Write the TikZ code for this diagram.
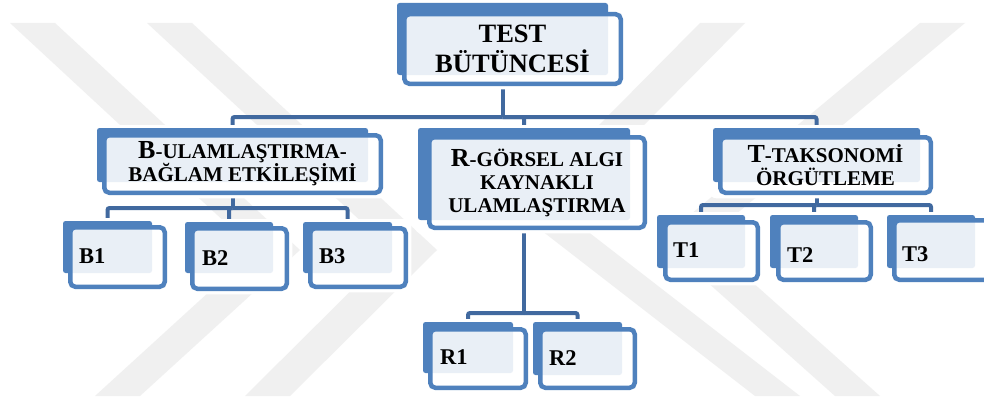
\documentclass[tikz,border=0pt]{standalone}
\usepackage{fontspec}
\setmainfont{Liberation Serif}
\usetikzlibrary{calc}
\pgfdeclarelayer{wm}
\pgfdeclarelayer{conn}
\pgfdeclarelayer{halo}
\pgfsetlayers{wm,conn,halo,main}
\definecolor{accblue}{HTML}{4F81BD}
\definecolor{connblue}{HTML}{41699F}
\definecolor{wmgray}{HTML}{F0F0F0}
\tikzset{
  backbox/.style={fill=accblue, draw=none, rounded corners=2.5pt, inner sep=0pt, outer sep=0pt, anchor=north west},
  frontbox/.style={fill=white, fill opacity=0.88, text opacity=1, draw=accblue, line width=4.5pt, rounded corners=5pt, inner sep=0pt, outer sep=0pt, anchor=north west, align=center, font=\bfseries\fontsize{21}{23}\selectfont},
  bigtext/.style={font=\bfseries\fontsize{26.5}{30}\selectfont},
  leaftext/.style={anchor=base west, inner sep=0pt, font=\bfseries\fontsize{22.5}{24}\selectfont},
  conn/.style={draw=connblue, line width=4pt, rounded corners=2pt},
  halo/.style={fill=white, rounded corners=6pt},
  wmband/.style={fill=wmgray, draw=none}
}
\newcommand\backat[5]{\node[backbox, minimum width=#4-#2, minimum height=#5-#3] (#1) at (#2,#3) {};}
\newcommand\frontat[7][]{\node[frontbox, #1, minimum width=#5-#3-4.5, minimum height=#6-#4-4.5] (#2) at (#3+2.25,#4+2.25) {#7};}
\newcommand\haloof[2]{\begin{pgfonlayer}{halo}\fill[halo] ($(#1.north west)+(-3,-3)$) rectangle ($(#2.south east)+(5.5,5.5)$);\end{pgfonlayer}}
\begin{document}
\begin{tikzpicture}[x=1pt,y=-1pt]
\useasboundingbox (0,0) rectangle (984,396);
% watermark
\begin{pgfonlayer}{wm}
\fill[white] (0,0) rectangle (984,396);
\fill[wmband] (10,23) -- (55,23) -- (300,250) -- (140,396) -- (95,396) -- (255,250) -- cycle;
\fill[wmband] (147,23) -- (192,23) -- (437,250) -- (290,396) -- (245,396) -- (392,250) -- cycle;
\fill[wmband] (700,23) -- (745,23) -- (560,210) -- (800,396) -- (755,396) -- (515,210) -- cycle;
\fill[wmband] (920,23) -- (965,23) -- (705,240) -- (880,396) -- (835,396) -- (660,240) -- cycle;
\end{pgfonlayer}
% top
\backat{Tb}{397}{3}{608}{75}
\frontat[bigtext]{Tf}{402}{12}{623}{86}{TEST\\BÜTÜNCESİ}
\haloof{Tb}{Tf}
% B
\backat{Bb}{97}{128}{368}{182}
\frontat{Bf}{102}{133}{383}{195}{{\fontsize{26}{23}\selectfont B}-ULAMLAŞTIRMA-\\BAĞLAM ETKİLEŞİMİ}
\haloof{Bb}{Bf}
% R
\backat{Rb}{418}{128}{630}{220}
\frontat{Rf}{427}{135}{647}{230}{{\fontsize{26}{23}\selectfont R}-GÖRSEL ALGI\\KAYNAKLI\\ULAMLAŞTIRMA}
\haloof{Rb}{Rf}
% T
\backat{Kb}{713}{128}{920}{182}
\frontat{Kf}{718}{135}{933}{195}{{\fontsize{26}{23}\selectfont T}-TAKSONOMİ\\ÖRGÜTLEME}
\haloof{Kb}{Kf}
% B leaves
\backat{B1b}{63}{221}{152}{273}
\frontat{B1f}{68}{225}{167}{289}{}
\node[leaftext] (B1t) at (79,263) {B1};
\haloof{B1b}{B1f}
\backat{B2b}{185}{222}{273}{273}
\frontat{B2f}{190}{226}{289}{291}{}
\node[leaftext] (B2t) at (202,265) {B2};
\haloof{B2b}{B2f}
\backat{B3b}{303}{222}{392}{273}
\frontat{B3f}{308}{226}{408}{289}{}
\node[leaftext] (B3t) at (319,263) {B3};
\haloof{B3b}{B3f}
% R leaves
\backat{R1b}{423}{322}{513}{373}
\frontat{R1f}{428}{327}{528}{390}{}
\node[leaftext] (R1t) at (440,364) {R1};
\haloof{R1b}{R1f}
\backat{R2b}{533}{322}{622}{375}
\frontat{R2f}{538}{327}{637}{390}{}
\node[leaftext] (R2t) at (549,365) {R2};
\haloof{R2b}{R2f}
% T leaves
\backat{T1b}{657}{215}{745}{268}
\frontat{T1f}{663}{220}{760}{282}{}
\node[leaftext] (T1t) at (673,257) {T1};
\haloof{T1b}{T1f}
\backat{T2b}{770}{215}{858}{268}
\frontat{T2f}{776}{220}{873}{282}{}
\node[leaftext] (T2t) at (787,262) {T2};
\haloof{T2b}{T2f}
\backat{T3b}{887}{215}{975}{268}
\frontat{T3f}{892}{218}{992}{282}{}
\node[leaftext] (T3t) at (902,261) {T3};
\haloof{T3b}{T3f}
% connectors
\begin{pgfonlayer}{conn}
\coordinate (jTop) at (Tb.south |- 0,117);
\draw[conn] (Tb.south) -- (jTop);
\draw[conn] (jTop) -| (Bb.north);
\draw[conn] (jTop) -| (Kb.north);
\draw[conn] (jTop) -| (Rb.north);
\coordinate (jB) at (Bb.south |- 0,208);
\draw[conn] (Bb.south) -- (jB);
\draw[conn] (jB) -| (B1b.north);
\draw[conn] (jB) -| (B2b.north);
\draw[conn] (jB) -| (B3b.north);
\coordinate (jR) at (Rb.south |- 0,313);
\draw[conn] (Rb.south) -- (jR);
\draw[conn] (jR) -| (R1b.north);
\draw[conn] (jR) -| (R2b.north);
\coordinate (jK) at (Kb.south |- 0,205);
\draw[conn] (Kb.south) -- (jK);
\draw[conn] (jK) -| (T1b.north);
\draw[conn] (jK) -| (T2b.north);
\draw[conn] (jK) -| (T3b.north);
\end{pgfonlayer}
\end{tikzpicture}
\end{document}
